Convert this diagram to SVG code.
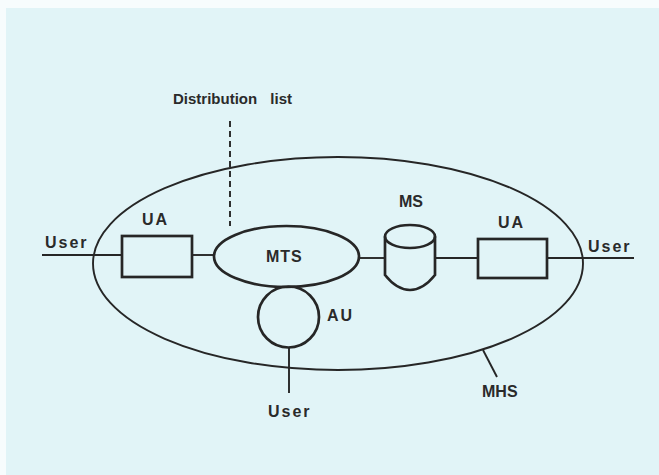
<svg xmlns="http://www.w3.org/2000/svg" width="659" height="475" viewBox="0 0 659 475">
  <style>
    .ln { fill: none; stroke: #262626; stroke-width: 1.9; }
    .box { fill: none; stroke: #262626; stroke-width: 2.7; }
    .lbl { font-family: "Liberation Sans", Arial, sans-serif; font-weight: bold; font-size: 16px; fill: #2a2a2a; }
  </style>
  <rect x="0" y="0" width="659" height="475" fill="#f7fcfd"/>
  <rect x="6" y="8" width="653" height="467" fill="#e1f4f7"/>

  <!-- Message handling system boundary -->
  <g id="mhs">
    <ellipse class="ln" cx="338" cy="263.5" rx="245" ry="106.5"/>
    <line class="ln" x1="483" y1="350" x2="497" y2="377"/>
    <text class="lbl" x="482" y="397">MHS</text>
  </g>

  <!-- Connectors -->
  <g id="connectors">
    <line class="ln" x1="42" y1="255" x2="122" y2="255"/>
    <line class="ln" x1="192" y1="255" x2="214" y2="255"/>
    <line class="ln" x1="359" y1="258" x2="385" y2="258"/>
    <line class="ln" x1="435" y1="258" x2="478" y2="258"/>
    <line class="ln" x1="547" y1="258" x2="634" y2="258"/>
    <line class="ln" x1="289" y1="347" x2="289" y2="393"/>
    <line class="ln" x1="230" y1="121" x2="230" y2="226" stroke-dasharray="6,4"/>
  </g>

  <g id="dist-list">
    <text class="lbl" x="173" y="104" style="font-size:15px" word-spacing="9">Distribution list</text>
  </g>

  <g id="user-left">
    <text class="lbl" x="45" y="248" style="letter-spacing:2px">User</text>
  </g>

  <g id="ua-left">
    <rect class="box" x="122" y="236" width="70" height="41"/>
    <text class="lbl" x="142" y="225" style="letter-spacing:2px">UA</text>
  </g>

  <g id="mts">
    <ellipse class="box" cx="286.5" cy="256.5" rx="72.5" ry="30.5"/>
    <text class="lbl" x="266" y="262" style="letter-spacing:1px">MTS</text>
  </g>

  <g id="au">
    <circle class="box" cx="288.5" cy="317" r="30.5"/>
    <text class="lbl" x="327" y="321" style="letter-spacing:2px">AU</text>
  </g>

  <g id="user-bottom">
    <text class="lbl" x="268" y="417" style="letter-spacing:2px">User</text>
  </g>

  <g id="ms">
    <path class="box" d="M385,236.5 L385,275 Q397,290 410,290 Q423,290 435,275 L435,236.5"/>
    <ellipse class="box" cx="410" cy="236.5" rx="25" ry="11.5"/>
    <text class="lbl" x="399" y="207">MS</text>
  </g>

  <g id="ua-right">
    <rect class="box" x="478" y="239" width="69" height="39"/>
    <text class="lbl" x="498" y="228" style="letter-spacing:2px">UA</text>
  </g>

  <g id="user-right">
    <text class="lbl" x="588" y="252" style="letter-spacing:2px">User</text>
  </g>
</svg>
